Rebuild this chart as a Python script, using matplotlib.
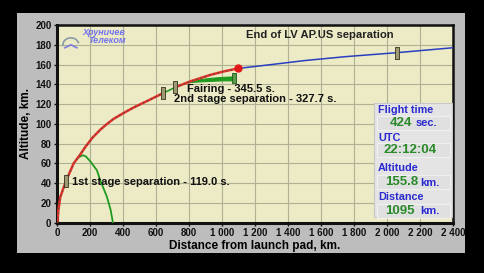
import numpy as np
import matplotlib
matplotlib.use("Agg")
import matplotlib.pyplot as plt
from matplotlib.patches import Rectangle, Arc
from matplotlib.ticker import FuncFormatter

plt.rcParams['font.family'] = ['Liberation Sans', 'DejaVu Sans']
plt.rcParams['font.weight'] = 'bold'

# ascent trajectory (red), km
dist_ascent = [0, 4, 8, 20, 54, 101, 141, 171, 215, 262, 300, 343, 404, 464, 545, 636]
alt_ascent = [0, 3, 12, 26, 42, 60, 69, 76.5, 86, 94, 99.5, 105, 111, 116.5, 123, 130.5]

# stage 3 coast between 2nd stage separation and fairing (green)
dist_coast = [636, 680, 717]
alt_coast = [130.5, 134, 137]

# ascent after fairing jettison (red)
dist_upper = [717, 808, 929, 1010, 1095]
alt_upper = [137, 143, 149.5, 153, 156]

# after upper stage separation (blue)
dist_after = [1095, 1300, 1500, 1750, 2060, 2400]
alt_after = [156, 160, 164, 168, 172, 177]

# first stage fall (green)
dist_stage1 = [131, 151, 161, 175, 202, 242, 262, 303, 325, 339]
alt_stage1 = [66, 68, 68, 67, 62, 53, 43, 26, 13, 0]

# fairing halves (green)
dist_fairing = [780, 850, 929, 1000, 1070]
alt_fairing_hi = [142, 145, 146.5, 147.5, 148]
alt_fairing_lo = [142, 142.8, 143.5, 144, 144]

# events
event_dist = [54, 640, 717, 2060]
event_alt = [42, 131, 137, 172]
sep_dist, sep_alt = 1095, 156

info_labels = ["Flight time", "UTC", "Altitude", "Distance"]
info_values = ["424", "22:12:04", "155.8", "1095"]
info_units = ["sec.", "", "km.", "km."]

fig = plt.figure(figsize=(4.85, 2.73), dpi=100, facecolor='black')
panel = Rectangle((17/485, 1-253/273), 448/485, 240/273, transform=fig.transFigure,
                  facecolor='#bdbdbd', edgecolor='none')
panel.set_zorder(-10)
fig.add_artist(panel)

ax = fig.add_axes([57/485, 1-222.7/273, 396/485, 197.7/273])
ax.set_facecolor('#ecebc6')
ax.set_xlim(0, 2400)
ax.set_ylim(0, 200)
ax.set_xticks(range(0, 2401, 200))
ax.set_yticks(range(0, 201, 20))
ax.xaxis.set_major_formatter(FuncFormatter(lambda v, p: f"{int(v):,}".replace(",", " ")))
ax.grid(True, color='#b0b092', linewidth=0.8)
ax.set_axisbelow(True)
for s in ax.spines.values():
    s.set_linewidth(1.8)
    s.set_color('#111111')
ax.spines['left'].set_linewidth(2.2)
ax.spines['bottom'].set_linewidth(2.2)
ax.tick_params(labelsize=7, length=2.5, width=1, pad=1.5, colors='#111111')
ax.set_xlabel("Distance from launch pad, km.", fontsize=8.5, fontweight='bold', labelpad=1)
ax.set_ylabel("Altitude, km.", fontsize=8.5, fontweight='bold', labelpad=2)

bar = [(-1, -3), (1, -3), (1, 3), (-1, 3), (-1, -3)]

ax.plot(dist_stage1, alt_stage1, color='#1e9a1e', lw=1.3, zorder=3)
ax.fill_between(dist_fairing, alt_fairing_lo, alt_fairing_hi, color='#1e9a1e', lw=0.8, zorder=3)
ax.plot([dist_fairing[-1]], [(alt_fairing_hi[-1] + alt_fairing_lo[-1]) / 2], marker=bar,
        ms=7, mfc='#5a9a4a', mec='#1e5a1e', mew=0.6, zorder=4)
ax.plot(dist_after, alt_after, color='#2a3ec0', lw=1.1, zorder=3)
for dx, ay in [(dist_ascent, alt_ascent), (dist_upper, alt_upper)]:
    ax.plot(dx, ay, color='#e8302a', lw=1.8, zorder=4)
    ax.plot(dx, ay, color='#6a4a3a', lw=1.0, ls=(0, (1.2, 2.0)), zorder=5)
ax.plot(dist_coast, alt_coast, color='#2a9a2a', lw=1.2, zorder=4)
ax.plot(event_dist, event_alt, ls='none', marker=bar, ms=8, mfc='#a09a70',
        mec='#333322', mew=0.6, zorder=6)
ax.plot([sep_dist], [sep_alt], 'o', color='#e01818', ms=5, zorder=7)

ax.text(0.664, 0.949, "End of LV AP.US separation", transform=ax.transAxes, ha='center',
        va='center', fontsize=8.1, color='#222222')
ax.text(790, 135.7, "Fairing - 345.5 s.", fontsize=8, color='#111111', va='center')
ax.text(711, 125.5, "2nd stage separation - 327.7 s.", fontsize=8, color='#111111', va='center')
ax.text(93, 41.3, "1st stage separation - 119.0 s.", fontsize=8, color='#111111', va='center')

# logo
ax.text(0.063, 0.962, "Хруничев", transform=ax.transAxes, fontsize=6.5, style='italic',
        color='#7272ee', va='center')
ax.text(0.078, 0.922, "Телеком", transform=ax.transAxes, fontsize=6.5, style='italic',
        color='#7272ee', va='center')
ax.add_patch(Arc((0.035, 0.9), 0.04, 0.07, theta1=20, theta2=200, transform=ax.transAxes,
                 color='#8a9aa8', lw=1.2))
ax.plot([0.02, 0.035, 0.05], [0.885, 0.9, 0.885], transform=ax.transAxes,
        color='#7c7ce0', lw=1.2)

# info panel
px = lambda x: (x - 57) / 396
py = lambda y: (222.7 - y) / 197.7
ax.add_patch(Rectangle((px(374), py(217)), px(452) - px(374), py(103) - py(217),
                       transform=ax.transAxes, facecolor='#e4e4e4', edgecolor='#c8c8c8',
                       lw=0.8, zorder=8))
label_y = [110, 138, 168, 197]
value_y = [123, 150, 182, 211]
value_x = [390, 384, 385, 385]
unit_x = [416, 0, 420, 420]
for lab, val, unit, ly, vy, vx, ux in zip(info_labels, info_values, info_units,
                                          label_y, value_y, value_x, unit_x):
    ax.add_patch(Rectangle((px(377), py(vy + 7)), px(450) - px(377), py(vy - 7) - py(vy + 7),
                           transform=ax.transAxes, facecolor='#e0e0e0', edgecolor='#f4f4f4',
                           lw=0.6, zorder=9))
    ax.text(px(378), py(ly), lab, transform=ax.transAxes, fontsize=7.8, color='#2a2ad0',
            va='center', zorder=10)
    ax.text(px(vx), py(vy), val, transform=ax.transAxes, fontsize=9.5,
            color='#2a8a2a', va='center', zorder=10)
    if unit:
        ax.text(px(ux), py(vy + 0.5), unit, transform=ax.transAxes, fontsize=8,
                color='#2a2ad0', va='center', zorder=10)

fig.savefig("out.png", dpi=100, facecolor='black')
